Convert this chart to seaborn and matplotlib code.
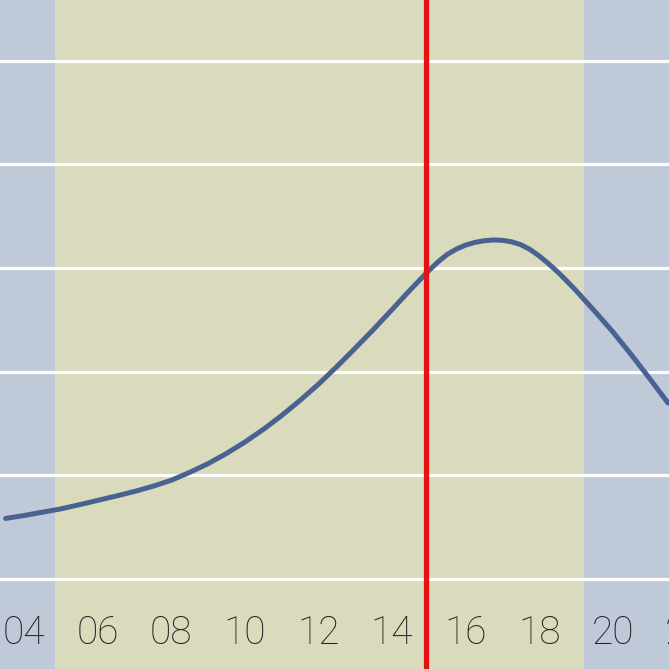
import matplotlib
matplotlib.use("Agg")
import matplotlib.pyplot as plt
import seaborn as sns
import pandas as pd

# ---- data ----
hours = [3.5, 4.0, 4.5, 5.0, 5.5, 6.0, 6.5, 7.0, 7.5, 8.0, 8.5, 9.0, 9.5,
         10.0, 10.5, 11.0, 11.5, 12.0, 12.5, 13.0, 13.5, 14.0, 14.5, 15.0,
         15.25, 15.5, 15.75, 16.0, 16.25, 16.5, 16.75, 17.0, 17.25, 17.5,
         17.75, 18.0, 18.25, 18.5, 18.75, 19.0, 19.5, 20.0, 20.5, 21.0, 21.5]
values = [12.92, 13.06, 13.22, 13.38, 13.58, 13.79, 14.00, 14.22, 14.47,
          14.76, 15.14, 15.56, 16.05, 16.60, 17.21, 17.88, 18.61, 19.39,
          20.24, 21.13, 22.04, 22.99, 23.95, 24.87, 25.29, 25.65, 25.91,
          26.10, 26.23, 26.31, 26.35, 26.33, 26.26, 26.12, 25.89, 25.58,
          25.21, 24.81, 24.37, 23.91, 22.93, 21.92, 20.82, 19.67, 18.49]
tick_hours = [4, 6, 8, 10, 12, 14, 16, 18, 20, 22]
tick_labels = ["04", "06", "08", "10", "12", "14", "16", "18", "20", "22"]
grid_levels = [10, 15, 20, 25, 30, 35]
day_start, day_end = 4.83, 19.23
marker_hour = 14.92
x_range = (3.348, 21.527)
y_range = (5.66, 37.92)

df = pd.DataFrame({"hour": hours, "value": values})

sns.set_theme(style="white")
plt.rcParams["font.family"] = ["Roboto", "DejaVu Sans"]

LABEL_STYLE = dict(fontsize=28, fontweight="light", color="#222222")
LABEL_PAD = 39  # points above the bottom edge (labels sit inside the plot)

fig = plt.figure(figsize=(6.69, 6.69), dpi=100)
ax = fig.add_axes([0, 0, 1, 1])
ax.set_facecolor("#bfc9d8")

ax.axvspan(day_start, day_end, color="#d9dbbc", zorder=0.2, lw=0)

sns.lineplot(data=df, x="hour", y="value", ax=ax, color="#4a6292",
             linewidth=3.6, zorder=2, solid_joinstyle="round",
             solid_capstyle="round")

ax.axvline(marker_hour, color="#e41212", linewidth=3.8, zorder=3)

ax.set_yticks(grid_levels)
ax.set_yticklabels([])
ax.set_axisbelow(True)
ax.yaxis.grid(True, color="white", linewidth=2.3)
ax.xaxis.grid(False)

ax.set_xticks(tick_hours)
ax.set_xticklabels(tick_labels, **LABEL_STYLE)
ax.tick_params(axis="x", length=0, pad=-LABEL_PAD)
ax.tick_params(axis="y", length=0)
ax.set_xlabel("")
ax.set_ylabel("")
for s in ax.spines.values():
    s.set_visible(False)

# limits last: set_xticks would otherwise widen the view
ax.set_xlim(*x_range)
ax.set_ylim(*y_range)

# tick labels beyond the right edge are partly visible in the reference
for h, lab in zip(tick_hours, tick_labels):
    if h > x_range[1]:
        ax.annotate(lab, xy=(h, 0), xycoords=("data", "axes fraction"),
                    xytext=(0, LABEL_PAD), textcoords="offset points",
                    ha="center", va="top", annotation_clip=False,
                    **LABEL_STYLE)

fig.savefig("out.png", dpi=100)
